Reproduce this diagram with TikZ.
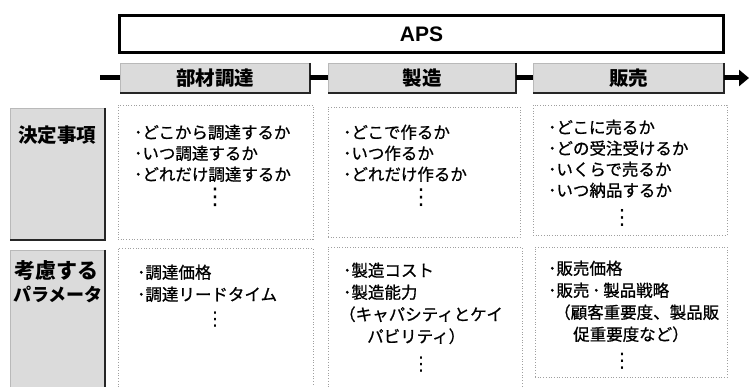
\documentclass[tikz,border=0pt]{standalone}
\usepackage{fontspec}
\setmainfont{Noto Sans CJK JP}
\newfontfamily\bodyfont[FakeBold=0.8]{Noto Sans CJK JP}
\newfontfamily\apsfont{Liberation Sans}
\newfontfamily\dotfont{DejaVu Sans}
\usetikzlibrary{arrows.meta}
\tikzset{
  apsbox/.style={draw=black, line width=3pt, fill=white, inner sep=0pt},
  procbox/.style={fill=gray!28, draw=gray!55, line width=0.4pt, inner sep=0pt,
     font=\fontsize{19.5}{22}\selectfont\bfseries},
  labelbox/.style={fill=gray!28, draw=gray!55, line width=0.4pt, inner sep=0pt},
  contentbox/.style={draw=gray!75, dotted, line width=0.7pt, inner sep=0pt},
  bodytext/.style={anchor=north west, inner sep=0pt, align=left, font=\bodyfont\fontsize{16.5}{21}\selectfont},
  bodytextb/.style={bodytext, font=\bodyfont\fontsize{16.5}{22}\selectfont},
  labeltext/.style={anchor=north west, inner sep=0pt, align=left, font=\bfseries},
  vdots/.style={inner sep=0pt, font=\dotfont\fontsize{#1}{#1}\selectfont},
  flow/.style={line width=5pt, black},
  shadowline/.style={line width=2pt, black!85}
}
\begin{document}
\begin{tikzpicture}[x=1pt,y=-1pt]
\useasboundingbox (0,0) rectangle (749,387);
% APS
\node[apsbox, minimum width=604pt, minimum height=37pt, font=\apsfont\fontsize{21}{24}\selectfont\bfseries] (aps) at (421.5,34) {APS};
% process row
\coordinate (fstart) at (100,78);
\coordinate (fend) at (749,78);
\node[procbox, minimum width=190pt, minimum height=30pt] (p1) at (215,78) {部材調達};
\node[procbox, minimum width=188pt, minimum height=30pt] (p2) at (422,78) {製造};
\node[procbox, minimum width=191pt, minimum height=30pt] (p3) at (628.5,78) {販売};
\draw[shadowline] (p1.north east) -- (p1.south east) -- (p1.south west);
\draw[shadowline] (p2.north east) -- (p2.south east) -- (p2.south west);
\draw[shadowline] (p3.north east) -- (p3.south east) -- (p3.south west);
\draw[flow] (fstart) -- (p1.west);
\draw[flow] (p1.east) -- (p2.west);
\draw[flow] (p2.east) -- (p3.west);
\draw[flow, -{Triangle[length=10pt,width=16pt]}] (p3.east) -- (fend);
% label boxes
\node[labelbox, minimum width=95pt, minimum height=132pt] (l1) at (57.5,174) {};
\draw[shadowline] (l1.north east) -- (l1.south east) -- (l1.south west);
\node[labeltext, font=\fontsize{19.5}{22}\selectfont\bfseries] (l1t) at (18,126) {決定事項};
\node[labelbox, minimum width=95pt, minimum height=140pt] (l2) at (57.5,320) {};
\draw[shadowline] (l2.north east) -- (l2.south east);
\node[labeltext, font=\fontsize{21}{24}\selectfont\bfseries] (l2t) at (14,260.5) {考慮する};
\node[labeltext, font=\fontsize{18}{22}\selectfont\bfseries] (l2u) at (13,285.5) {パラメータ};
% content boxes row 1
\node[contentbox, minimum width=195pt, minimum height=134pt] (c11) at (215.5,172) {};
\node[contentbox, minimum width=192pt, minimum height=130pt] (c12) at (424,172) {};
\node[contentbox, minimum width=194pt, minimum height=130pt] (c13) at (630,170) {};
% content boxes row 2
\node[contentbox, minimum width=195pt, minimum height=144pt] (c21) at (215.5,320) {};
\node[contentbox, minimum width=194pt, minimum height=145pt] (c22) at (425,319.5) {};
\node[contentbox, minimum width=192pt, minimum height=130pt] (c23) at (631,312) {};
% texts row 1
\node[bodytext] (t11) at (134,124.5) {･どこから調達するか\\･いつ調達するか\\･どれだけ調達するか};
\node[vdots=23] (d11) at (215,197) {⋮};
\node[bodytext] (t12) at (343,124.5) {･どこで作るか\\･いつ作るか\\･どれだけ作るか};
\node[vdots=22] (d12) at (421,198) {⋮};
\node[bodytext] (t13) at (548,119.5) {･どこに売るか\\･どの受注受けるか\\･いくらで売るか\\･いつ納品するか};
\node[vdots=21] (d13) at (622,217.5) {⋮};
% texts row 2
\node[bodytextb] (t21) at (137,264.5) {･調達価格\\･調達リードタイム};
\node[vdots=19] (d21) at (215,320) {⋮};
\node[bodytextb] (t22) at (343,262.5) {･製造コスト\\･製造能力\\\hspace*{-4pt}（キャパシティとケイ\\\hspace*{24pt}パビリティ）};
\node[vdots=19] (d22) at (421,364.5) {⋮};
\node[bodytextb] (t23) at (548,260.5) {･販売価格\\･販売\,･\,製品戦略\\\hspace*{6pt}（顧客重要度、製品販\\\hspace*{25pt}促重要度など）};
\node[vdots=20] (d23) at (622,361) {⋮};
\end{tikzpicture}
\end{document}
